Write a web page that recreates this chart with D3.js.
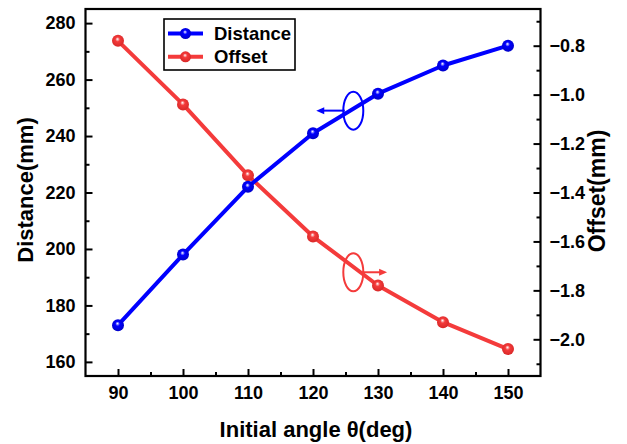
<!DOCTYPE html>
<html>
<head>
<meta charset="utf-8">
<script src="https://cdn.jsdelivr.net/npm/d3@7"></script>
<style>
  body { margin: 0; background: #fff; }
  svg text { font-family: "Liberation Sans", Arial, sans-serif; font-weight: bold; fill: #000; }
</style>
</head>
<body>
<div id="chart"></div>
<script>
// data
const angles = [90, 100, 110, 120, 130, 140, 150];
const distance = [173, 198, 222, 241, 255, 265, 272];
const offset = [-0.78, -1.04, -1.33, -1.58, -1.78, -1.93, -2.04];

const xTicks = [90, 100, 110, 120, 130, 140, 150];
const xMinor = [95, 105, 115, 125, 135, 145];
const leftTicks = [160, 180, 200, 220, 240, 260, 280];
const leftMinor = [170, 190, 210, 230, 250, 270];
const rightTicks = [-2.0, -1.8, -1.6, -1.4, -1.2, -1.0, -0.8];
const rightMinor = [-2.1, -1.9, -1.7, -1.5, -1.3, -1.1, -0.9, -0.7];

// ellipse + arrow markers showing which axis each curve belongs to
const callouts = [
  { axis: 'left', angle: 126.2, value: 249, arrowTo: 120.5 },
  { axis: 'right', angle: 126.2, value: -1.726, arrowTo: 131.4 }
];

const blue = '#0000ff';
const red = '#f43b3b';

const width = 627, height = 444;
const margin = { top: 9, right: 86.5, bottom: 68, left: 85.5 };
const w = width - margin.left - margin.right;
const h = height - margin.top - margin.bottom;

const svg = d3.select('#chart').append('svg')
  .attr('width', width)
  .attr('height', height);

const defs = svg.append('defs');
function sphere(id, c, dark) {
  const g = defs.append('radialGradient')
    .attr('id', id)
    .attr('cx', '50%').attr('cy', '45%').attr('r', '55%')
    .attr('fx', '45%').attr('fy', '35%');
  g.append('stop').attr('offset', '0%').attr('stop-color', '#fff');
  g.append('stop').attr('offset', '35%').attr('stop-color', c);
  g.append('stop').attr('offset', '100%').attr('stop-color', dark);
}
sphere('ballBlue', blue, '#0000c8');
sphere('ballRed', red, '#d82828');

const x = d3.scaleLinear().domain([85, 155]).range([0, w]);
const yL = d3.scaleLinear().domain([155, 285]).range([h, 0]);
const yR = d3.scaleLinear().domain([-2.15, -0.65]).range([h, 0]);

const g = svg.append('g')
  .attr('transform', `translate(${margin.left}, ${margin.top})`);

// axes: ticks point inward
function styleAxis(sel) {
  sel.select('.domain').remove();
  sel.selectAll('.tick line').attr('stroke', '#000').attr('stroke-width', 2);
  sel.selectAll('.tick text').style('font-size', '18px');
}

g.append('g')
  .attr('transform', `translate(0, ${h})`)
  .call(d3.axisBottom(x).tickValues(xTicks).tickSizeInner(-7).tickSizeOuter(0).tickPadding(10).tickFormat(d3.format('d')))
  .call(styleAxis);

g.append('g')
  .attr('transform', `translate(0, ${h})`)
  .call(d3.axisBottom(x).tickValues(xMinor).tickSizeInner(-4).tickSizeOuter(0).tickFormat(''))
  .call(styleAxis);

g.append('g')
  .call(d3.axisLeft(yL).tickValues(leftTicks).tickSizeInner(-7).tickSizeOuter(0).tickPadding(10).tickFormat(d3.format('d')))
  .call(styleAxis);

g.append('g')
  .call(d3.axisLeft(yL).tickValues(leftMinor).tickSizeInner(-4).tickSizeOuter(0).tickFormat(''))
  .call(styleAxis);

g.append('g')
  .attr('transform', `translate(${w}, 0)`)
  .call(d3.axisRight(yR).tickValues(rightTicks).tickSizeInner(-7).tickSizeOuter(0).tickPadding(9).tickFormat(d3.format('.1f')))
  .call(styleAxis);

g.append('g')
  .attr('transform', `translate(${w}, 0)`)
  .call(d3.axisRight(yR).tickValues(rightMinor).tickSizeInner(-4).tickSizeOuter(0).tickFormat(''))
  .call(styleAxis);

// frame
g.append('rect')
  .attr('width', w)
  .attr('height', h)
  .attr('fill', 'none')
  .attr('stroke', '#000')
  .attr('stroke-width', 2.2);

// series
const series = [
  { name: 'Distance', values: distance, y: yL, color: blue, ball: 'ballBlue' },
  { name: 'Offset', values: offset, y: yR, color: red, ball: 'ballRed' }
];

const drawOrder = [series[1], series[0]];
drawOrder.forEach(s => {
  const pts = angles.map((a, i) => [a, s.values[i]]);
  const line = d3.line().x(d => x(d[0])).y(d => s.y(d[1]));
  g.append('path')
    .datum(pts)
    .attr('fill', 'none')
    .attr('stroke', s.color)
    .attr('stroke-width', 4)
    .attr('stroke-linejoin', 'round')
    .attr('d', line);
  g.append('g').selectAll('circle')
    .data(pts)
    .join('circle')
    .attr('cx', d => x(d[0]))
    .attr('cy', d => s.y(d[1]))
    .attr('r', 6)
    .attr('fill', `url(#${s.ball})`);
});

// callouts
callouts.forEach(c => {
  const col = c.axis === 'left' ? blue : red;
  const yy = c.axis === 'left' ? yL : yR;
  const cx = x(c.angle), cy = yy(c.value);
  const rx = 10, ry = 19;
  const dir = c.axis === 'left' ? -1 : 1;
  const x0 = cx + dir * rx * 0.85;
  const x1 = x(c.arrowTo);
  g.append('ellipse')
    .attr('cx', cx).attr('cy', cy)
    .attr('rx', rx).attr('ry', ry)
    .attr('fill', 'none')
    .attr('stroke', col)
    .attr('stroke-width', 2);
  g.append('line')
    .attr('x1', x0).attr('y1', cy)
    .attr('x2', x1 - dir * 5).attr('y2', cy)
    .attr('stroke', col)
    .attr('stroke-width', 2);
  g.append('path')
    .attr('d', `M${x1},${cy} L${x1 - dir * 8},${cy - 3.5} L${x1 - dir * 8},${cy + 3.5} Z`)
    .attr('fill', col);
});

// legend
const legend = svg.append('g');
legend.append('rect')
  .attr('x', 164).attr('y', 19)
  .attr('width', 131).attr('height', 51)
  .attr('fill', '#fff')
  .attr('stroke', '#000')
  .attr('stroke-width', 1.6);
series.forEach((s, i) => {
  const ly = 33.5 + i * 23.3;
  legend.append('line')
    .attr('x1', 168).attr('x2', 203)
    .attr('y1', ly).attr('y2', ly)
    .attr('stroke', s.color)
    .attr('stroke-width', 4);
  legend.append('circle')
    .attr('cx', 185.5).attr('cy', ly)
    .attr('r', 5.5)
    .attr('fill', `url(#${s.ball})`);
  legend.append('text')
    .attr('x', 214).attr('y', ly)
    .attr('dy', '0.36em')
    .style('font-size', '18.5px')
    .text(s.name);
});

// axis titles
svg.append('text')
  .attr('x', margin.left + w / 2 + 3)
  .attr('y', 437)
  .attr('text-anchor', 'middle')
  .style('font-size', '22px')
  .text('Initial angle θ(deg)');

svg.append('text')
  .attr('transform', 'translate(33, 190) rotate(-90)')
  .attr('text-anchor', 'middle')
  .style('font-size', '22px')
  .text('Distance(mm)');

svg.append('text')
  .attr('transform', 'translate(605, 191) rotate(-90)')
  .attr('text-anchor', 'middle')
  .style('font-size', '23px')
  .text('Offset(mm)');
</script>
</body>
</html>
